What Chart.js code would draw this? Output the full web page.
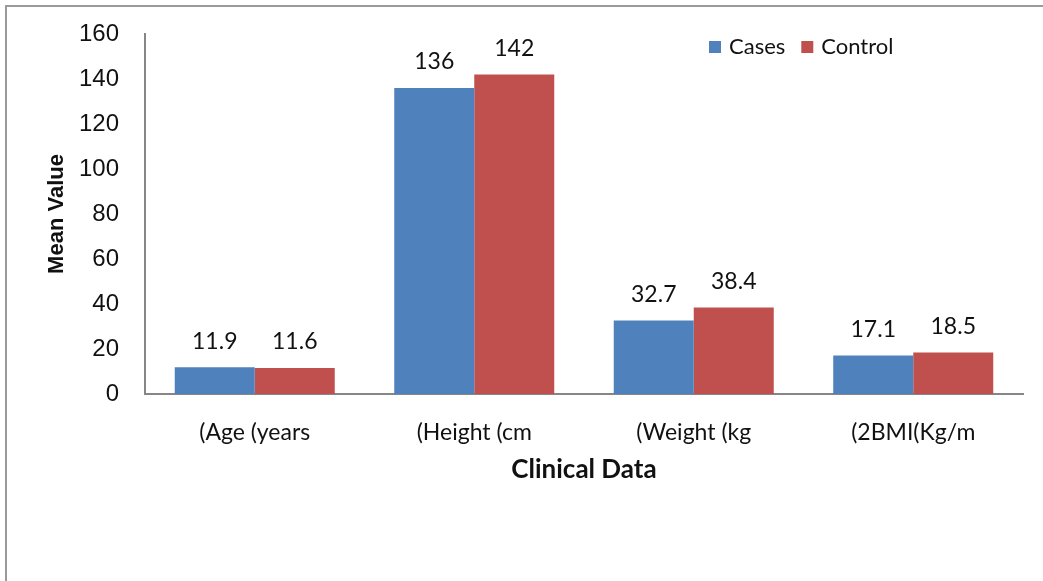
<!DOCTYPE html>
<html>
<head>
<meta charset="utf-8">
<script src="https://cdn.jsdelivr.net/npm/chart.js@4.4.1/dist/chart.umd.min.js"></script>
<style>
  html, body { margin: 0; padding: 0; background: #fff; overflow: hidden; }
  #wrap { width: 1043px; height: 581px; }
</style>
</head>
<body>
<div id="wrap"><canvas id="clinical"></canvas></div>
<script>
const categories = ['(Age (years', '(Height (cm', '(Weight (kg', '(2BMI(Kg/m'];
const casesValues = [11.9, 136, 32.7, 17.1];
const controlValues = [11.6, 142, 38.4, 18.5];
const yTicks = [0, 20, 40, 60, 80, 100, 120, 140, 160];

const blue = '#4F81BD';
const red = '#C0504D';
const axisGrey = '#868686';

// outer frame of the figure
const framePlugin = {
  id: 'frame',
  beforeDraw(chart) {
    const ctx = chart.ctx;
    ctx.save();
    ctx.strokeStyle = '#9a9a9a';
    ctx.lineWidth = 2;
    ctx.strokeRect(6, 6, 1200, 800);
    ctx.restore();
  }
};

// value above each bar
const valueLabels = {
  id: 'valueLabels',
  afterDatasetsDraw(chart) {
    const ctx = chart.ctx;
    ctx.save();
    ctx.font = '23px Lato';
    ctx.fillStyle = '#111';
    ctx.textAlign = 'center';
    ctx.textBaseline = 'middle';
    chart.data.datasets.forEach((ds, i) => {
      chart.getDatasetMeta(i).data.forEach((bar, j) => {
        ctx.fillText(String(ds.data[j]), bar.x, bar.y - 26);
      });
    });
    ctx.restore();
  }
};

// legend inside the plot, top right
const insideLegend = {
  id: 'insideLegend',
  afterDraw(chart) {
    const ctx = chart.ctx;
    ctx.save();
    ctx.font = '22px Lato';
    ctx.textBaseline = 'middle';
    let x = 709;
    const y = 47;
    chart.data.datasets.forEach(ds => {
      ctx.fillStyle = ds.backgroundColor;
      ctx.fillRect(x, y - 6, 12, 12);
      ctx.fillStyle = '#111';
      ctx.fillText(ds.label, x + 20, y);
      x += 20 + ctx.measureText(ds.label).width + 16;
    });
    ctx.restore();
  }
};

new Chart(document.getElementById('clinical'), {
  type: 'bar',
  data: {
    labels: categories,
    datasets: [
      { label: 'Cases', data: casesValues, backgroundColor: blue },
      { label: 'Control', data: controlValues, backgroundColor: red }
    ]
  },
  options: {
    responsive: true,
    maintainAspectRatio: false,
    animation: false,
    datasets: { bar: { barPercentage: 1, categoryPercentage: 0.729 } },
    layout: { padding: { left: 40, top: 34, right: 20, bottom: 0 } },
    plugins: {
      legend: { display: false },
      tooltip: { enabled: false }
    },
    scales: {
      x: {
        grid: { display: false, drawTicks: false },
        border: { display: true, color: axisGrey, width: 2 },
        ticks: { color: '#111', padding: 25, font: { family: 'Lato', size: 23 } },
        title: {
          display: true, text: 'Clinical Data', color: '#111',
          font: { family: 'Lato', size: 26, weight: 'bold' },
          padding: { top: 0, bottom: 96 }
        },
        afterFit(scale) { scale.height = 187; }
      },
      y: {
        min: 0, max: 160,
        afterBuildTicks(scale) { scale.ticks = yTicks.map(v => ({ value: v })); },
        grid: { display: false, drawTicks: false },
        border: { display: true, color: axisGrey, width: 2 },
        ticks: { color: '#111', padding: 26, font: { family: 'Liberation Sans', size: 24 } },
        title: {
          display: true, text: 'Mean Value', color: '#111',
          font: { family: 'Liberation Sans', size: 22, weight: 'bold' },
          padding: { top: 4, bottom: 0 }
        },
        afterFit(scale) {
          scale.width = 105;
          // tick padding would otherwise push the top of the plot down
          scale.paddingTop = 0;
          scale.paddingBottom = 0;
        }
      }
    }
  },
  plugins: [framePlugin, valueLabels, insideLegend]
});
</script>
</body>
</html>
